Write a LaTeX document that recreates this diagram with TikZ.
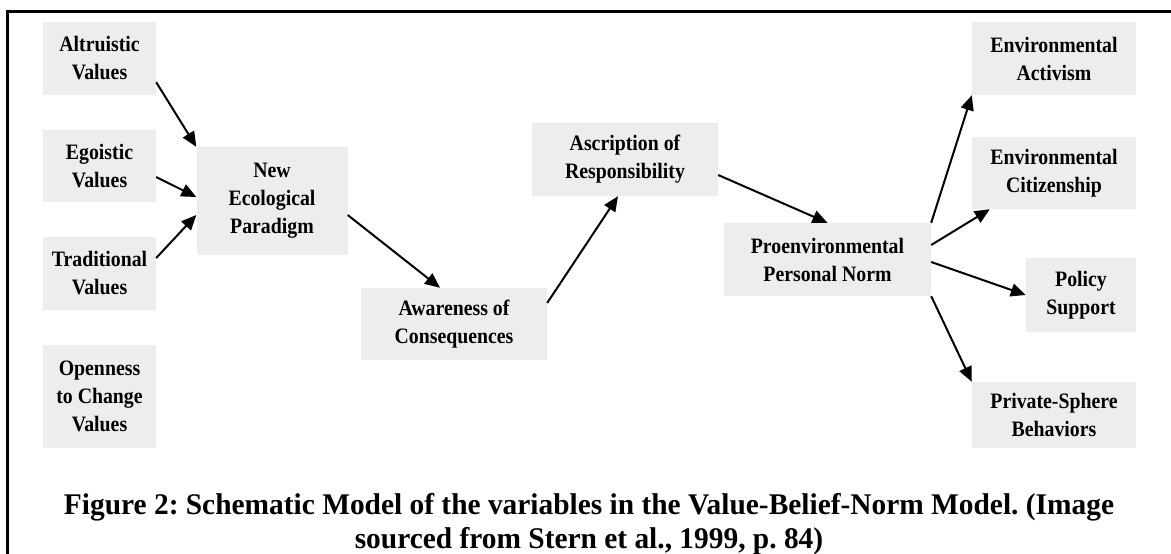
\documentclass[tikz,border=0pt]{standalone}
\usepackage{fontspec}
\setmainfont{Liberation Serif}[FakeStretch=0.9]
\newfontfamily\capfont{Liberation Serif}[FakeStretch=0.98]
\usetikzlibrary{arrows.meta}
\definecolor{boxgrey}{HTML}{EDEDED}
\frenchspacing

\begin{document}
\begin{tikzpicture}[x=1pt,y=-1pt,
  varbox/.style={fill=boxgrey,inner sep=0pt,align=center,
    font=\bfseries\fontsize{22}{28}\selectfont},
  capline/.style={inner sep=0pt,font=\capfont\bfseries\fontsize{30}{34}\selectfont},
  link/.style={line width=2pt,-{Triangle[length=15pt,width=13pt]}}]

\useasboundingbox (0,0) rectangle (1171,554);
\draw[line width=2.6pt] (7.5,554) -- (7.5,11.5) -- (1171,11.5);

\begin{scope}
\node[varbox,minimum width=113pt,minimum height=73pt] (alt) at (99.5,58.5) {Altruistic\\Values};
\node[varbox,minimum width=113pt,minimum height=72pt] (ego) at (99.5,166) {Egoistic\\Values};
\node[varbox,minimum width=113pt,minimum height=73pt] (trad) at (99.5,273.5) {Traditional\\Values};
\node[varbox,minimum width=113pt,minimum height=103pt] (open) at (99.5,396.5) {Openness\\to Change\\Values};
\end{scope}

\begin{scope}
\node[varbox,minimum width=151pt,minimum height=108pt] (nep) at (272,201) {New\\Ecological\\Paradigm};
\node[varbox,minimum width=186pt,minimum height=72pt] (aware) at (454,324) {Awareness of\\Consequences};
\node[varbox,minimum width=186pt,minimum height=73pt] (ascr) at (625,159.5) {Ascription of\\Responsibility};
\node[varbox,minimum width=207pt,minimum height=73pt] (ppn) at (827.5,259.5) {Proenvironmental\\Personal Norm};
\end{scope}

\begin{scope}
\node[varbox,minimum width=164pt,minimum height=73pt] (act) at (1054,58.5) {Environmental\\Activism};
\node[varbox,minimum width=164pt,minimum height=72pt] (cit) at (1054,173) {Environmental\\Citizenship};
\node[varbox,minimum width=110pt,minimum height=74pt] (pol) at (1081,295) {Policy\\Support};
\node[varbox,minimum width=164pt,minimum height=66pt] (priv) at (1054,415) {Private-Sphere\\Behaviors};
\end{scope}

\draw[link] ([yshift=13pt]alt.south east) -- (nep.north west);
\draw[link] ([yshift=-11pt]ego.east) -- ([yshift=4pt]nep.west);
\draw[link] ([yshift=15.5pt]trad.east) -- ([yshift=-14pt]nep.west);
\draw[link] ([yshift=-14pt]nep.east) -- ([xshift=-14pt]aware.north);
\draw[link] ([yshift=21pt]aware.east) -- ([xshift=-7pt]ascr.south);
\draw[link] ([yshift=-15.5pt]ascr.east) -- (ppn.north);
\draw[link] (ppn.north east) -- (act.south west);
\draw[link] ([yshift=14.5pt]ppn.east) -- ([xshift=18pt]cit.south west);
\draw[link] ([yshift=-2.5pt]ppn.east) -- (pol.west);
\draw[link] (ppn.south east) -- (priv.north west);

\node[capline,anchor=base] (cap1) at (589,514) {Figure 2: Schematic Model of the variables in the Value-Belief-Norm Model. (Image};
\node[capline,anchor=base] (cap2) at (589,548) {sourced from Stern et al., 1999, p. 84)};

\end{tikzpicture}
\end{document}
